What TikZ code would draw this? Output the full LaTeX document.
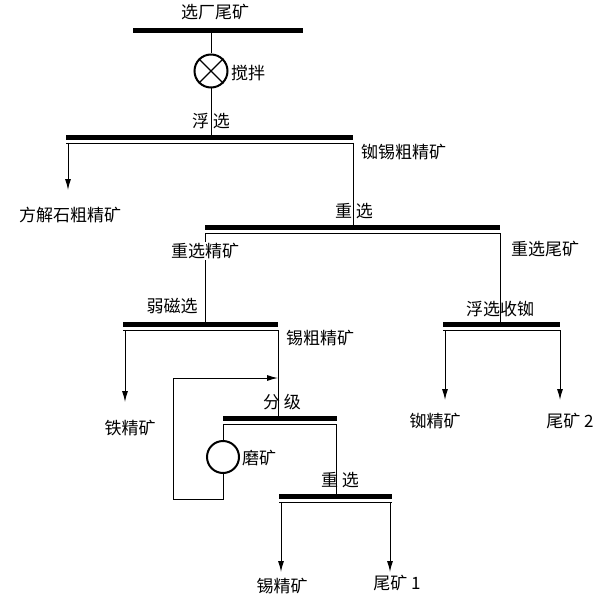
\documentclass[tikz,border=0pt]{standalone}
\usepackage{fontspec}
\setmainfont{Noto Sans CJK SC}
\usetikzlibrary{arrows.meta}
\begin{document}
\begin{tikzpicture}[x=1pt,y=-1pt,
  lbl/.style={font=\fontsize{17}{19}\selectfont,inner sep=1pt},
  ln/.style={line width=1pt},
  arr/.style={ln,-{Latex[length=11pt,width=6pt]}},
  mixer/.style={circle,draw,line width=2pt,minimum size=33pt,inner sep=0pt}]
\useasboundingbox (0,0) rectangle (600,604);
\fill[white] (0,0) rectangle (600,604);
\newcommand{\flowbar}[3]{\fill (#1,#3) rectangle (#2,#3+5); \draw[line width=0.8pt] (#1,#3+8) -- (#2,#3+8);}
\fill (133,28) rectangle (303,33);
\node[lbl] (t0) at (215,12) {选厂尾矿};
\node[mixer] (mix) at (211,71) {};
\draw[line width=1.3pt] (mix.north west) -- (mix.south east) (mix.north east) -- (mix.south west);
\node[lbl,anchor=west] at (230,73) {搅拌};
\coordinate (b0) at (211,33);
\draw[ln] (b0) -- (mix.north);
\flowbar{66}{353}{135}
\coordinate (b2) at (211,135);
\draw[ln] (mix.south) -- (b2);
\node[lbl] at (211,121) {浮\ 选};
\coordinate (b2l) at (68,143); \coordinate (a1) at (68,190);
\draw[arr] (b2l) -- (a1);
\node[lbl] at (70,215) {方解石粗精矿};
\coordinate (b2r) at (353,143);
\node[lbl,anchor=west] at (360,152) {铷锡粗精矿};
\flowbar{205}{500}{225}
\coordinate (b3) at (353,225);
\draw[ln] (b2r) -- (b3);
\node[lbl] at (354,211) {重\ 选};
\coordinate (b3l) at (205,233); \coordinate (b4t) at (205,322);
\draw[ln] (b3l) -- (b4t);
\node[lbl,fill=white] at (205,251) {重选精矿};
\coordinate (b3r) at (500,233); \coordinate (b5t) at (500,322);
\draw[ln] (b3r) -- (b5t);
\node[lbl] at (545,249) {重选尾矿};
\flowbar{123}{278}{322}
\node[lbl] at (172,306) {弱磁选};
\coordinate (b4l) at (125,330); \coordinate (a2) at (125,402);
\draw[arr] (b4l) -- (a2);
\node[lbl] at (130,428) {铁精矿};
\coordinate (b4r) at (278,330); \coordinate (b6t) at (278,416);
\draw[ln] (b4r) -- (b6t);
\node[lbl,anchor=west] at (285,338) {锡粗精矿};
\flowbar{443}{560}{322}
\node[lbl] at (500,309) {浮选收铷};
\coordinate (b5l) at (445,330); \coordinate (a3) at (445,400);
\coordinate (b5r) at (560,330); \coordinate (a4) at (560,400);
\draw[arr] (b5l) -- (a3);
\draw[arr] (b5r) -- (a4);
\node[lbl] at (435,421) {铷精矿};
\node[lbl] at (570,421) {尾矿 2};
\flowbar{223}{337}{416}
\node[lbl] at (282,402) {分\ 级};
\node[mixer,minimum size=32pt] (mill) at (223,457) {};
\node[lbl,anchor=west] at (241,458) {磨矿};
\coordinate (b6l) at (223,424);
\draw[ln] (b6l) -- (mill.north);
\coordinate (lp1) at (223,499); \coordinate (lp2) at (173,499);
\coordinate (lp3) at (173,378); \coordinate (lp4) at (278,378);
\draw[ln,-{Latex[length=11pt,width=6pt]}] (mill.south) -- (lp1) -- (lp2) -- (lp3) -- (lp4);
\coordinate (b6r) at (336,424); \coordinate (b7t) at (336,494);
\draw[ln] (b6r) -- (b7t);
\flowbar{279}{392}{494}
\node[lbl] at (340,480) {重\ 选};
\coordinate (b7l) at (281,502); \coordinate (a5) at (281,572);
\coordinate (b7r) at (390,502); \coordinate (a6) at (390,572);
\draw[arr] (b7l) -- (a5);
\draw[arr] (b7r) -- (a6);
\node[lbl] at (282,586) {锡精矿};
\node[lbl] at (397,583) {尾矿 1};
\end{tikzpicture}
\end{document}
